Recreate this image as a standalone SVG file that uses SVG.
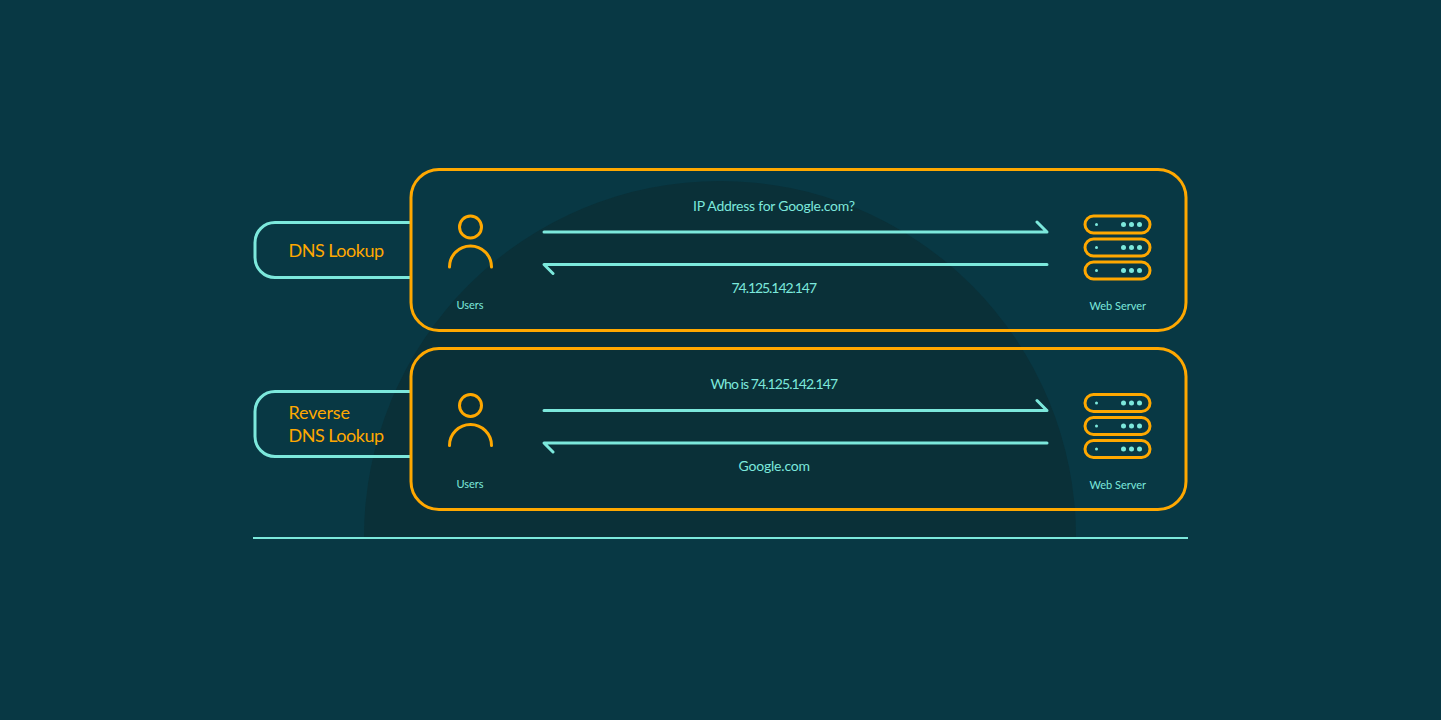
<svg xmlns="http://www.w3.org/2000/svg" width="1441" height="720" viewBox="0 0 1441 720">
<defs>
<style>
.box{fill:none;stroke:#ffa800;stroke-width:3}
.tab{fill:none;stroke:#7ce8dc;stroke-width:3}
.ln{fill:none;stroke:#7ce8dc;stroke-width:3;stroke-linecap:round;stroke-linejoin:round}
.ic{fill:none;stroke:#ffa800;stroke-width:3;stroke-linecap:round}
.srv{fill:none;stroke:#ffa800;stroke-width:3}
.d{fill:#7ce8dc}
text{font-family:Lato,"Noto Sans","Liberation Sans",sans-serif}
.big{fill:#ffa800;font-size:18px}
.msg{fill:#7ce8dc;font-size:14px}
.sm{fill:#7ce8dc;font-size:11px}
</style>
<g id="server">
<rect class="srv" x="1085" y="216" width="65" height="17" rx="8.5"/>
<rect class="srv" x="1085" y="239" width="65" height="17" rx="8.5"/>
<rect class="srv" x="1085" y="262" width="65" height="17" rx="8.5"/>
<g id="dots">
<circle class="d" cx="1096.500" cy="224.500" r="1.500"/><circle class="d" cx="1123.500" cy="224.500" r="2.500"/><circle class="d" cx="1131.500" cy="224.500" r="2.500"/><circle class="d" cx="1139.500" cy="224.500" r="2.500"/>
<circle class="d" cx="1096.500" cy="247.500" r="1.500"/><circle class="d" cx="1123.500" cy="247.500" r="2.500"/><circle class="d" cx="1131.500" cy="247.500" r="2.500"/><circle class="d" cx="1139.500" cy="247.500" r="2.500"/>
<circle class="d" cx="1096.500" cy="270.500" r="1.500"/><circle class="d" cx="1123.500" cy="270.500" r="2.500"/><circle class="d" cx="1131.500" cy="270.500" r="2.500"/><circle class="d" cx="1139.500" cy="270.500" r="2.500"/>
</g>
</g>
<g id="user">
<circle class="ic" cx="470.500" cy="227" r="11"/>
<path class="ic" d="M449.500 267a21 21 0 0 1 42 0"/>
</g>
</defs>
<rect width="1441" height="720" fill="#083844"/>
<path d="M364 537a356 356 0 0 1 712 0z" fill="#0a3038"/>
<g id="connectors">
<path class="tab" d="M411 222.500H275a20 20 0 0 0-20 20v15a20 20 0 0 0 20 20H411"/>
<path class="tab" d="M411 391.500H275a20 20 0 0 0-20 20v25a20 20 0 0 0 20 20H411"/>
<path class="ln" d="M544 232H1047L1037 222"/>
<path class="ln" d="M1047 264.500H544L553 273.500"/>
<path class="ln" d="M544 410.500H1047L1037 400.500"/>
<path class="ln" d="M1047 443H544L553 452"/>
<path d="M253 538H1188" stroke="#7ce8dc" stroke-width="2" fill="none"/>
</g>
<g id="dns-lookup"><text class="big" x="288.500" y="257" textLength="95.500">DNS Lookup</text></g>
<g id="reverse-dns-lookup"><text class="big" x="288.500" y="419" textLength="61.500">Reverse</text><text class="big" x="288.500" y="442" textLength="95.500">DNS Lookup</text></g>
<g id="panel-1">
<rect class="box" x="411" y="169.500" width="775" height="161" rx="28"/>
<use href="#user"/>
<text class="sm" x="456.500" y="309" textLength="27">Users</text>
<text class="msg" x="693" y="211" textLength="162">IP Address for Google.com?</text>
<text class="msg" x="731.500" y="293" textLength="85.500">74.125.142.147</text>
<use href="#server"/>
<text class="sm" x="1089.500" y="310" textLength="56.500">Web Server</text>
</g>
<g id="panel-2">
<rect class="box" x="411" y="348.500" width="775" height="161" rx="28"/>
<use href="#user" y="178.500"/>
<text class="sm" x="456.500" y="488" textLength="27">Users</text>
<text class="msg" x="710.500" y="389" textLength="127.500">Who is 74.125.142.147</text>
<text class="msg" x="738.500" y="471" textLength="71.500">Google.com</text>
<use href="#server" y="178.500"/>
<text class="sm" x="1089.500" y="489" textLength="56.500">Web Server</text>
</g>
</svg>
